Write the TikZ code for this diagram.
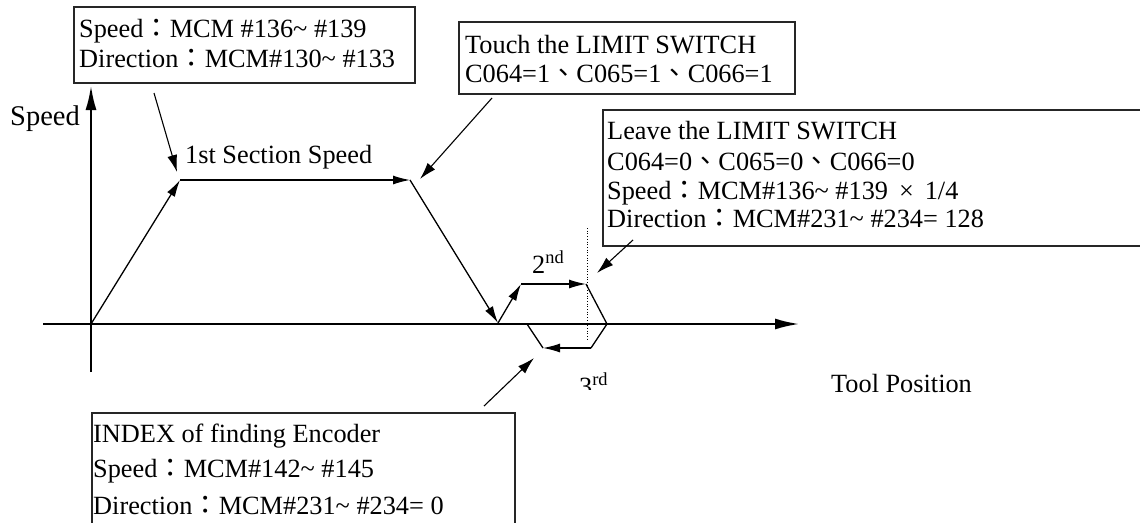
\documentclass[tikz,border=0pt]{standalone}
\usepackage{fontspec}
\setmainfont{Liberation Serif}
\newfontfamily\cjk{Noto Sans CJK TC}
\usetikzlibrary{arrows.meta}
\newcommand{\jcolon}{{\cjk ：}}
\newcommand{\jcomma}{{\cjk 、}}
\newcommand{\mytilde}{\textasciitilde}
\begin{document}
\begin{tikzpicture}[x=1pt,y=-1pt,
  txt/.style={inner sep=0pt, anchor=base west, font=\fontsize{26.3}{30}\selectfont},
  boxline/.style={line width=1.4pt, draw=black!85},
  axis/.style={line width=2.8pt, -{Latex[length=25pt,width=11pt]}},
  prof/.style={line width=1.3pt, -{Latex[length=17pt,width=9pt]}},
  profplain/.style={line width=1.3pt},
  note/.style={line width=1.1pt, -{Latex[length=17pt,width=10pt]}}]
\useasboundingbox (0,0) rectangle (1140,522);

% boxes
\draw[boxline] (74,7) rectangle (415,83);
\draw[boxline] (459,22) rectangle (795,94);
\draw[boxline] (1141,110) -- (603,110) -- (603,246) -- (1141,246);
\draw[boxline] (92,523) -- (92,413) -- (515,413) -- (515,523);

% box texts
\node[txt] (b1a) at (79,37) {Speed\jcolon MCM \#136\mytilde\ \#139};
\node[txt] (b1b) at (79,67) {Direction\jcolon MCM\#130\mytilde\ \#133};
\node[txt] (b2a) at (465,53) {Touch the LIMIT SWITCH};
\node[txt] (b2b) at (465,82) {C064=1\jcomma C065=1\jcomma C066=1};
\node[txt] (b3a) at (607,139) {Leave the LIMIT SWITCH};
\node[txt] (b3b) at (607,170) {C064=0\jcomma C065=0\jcomma C066=0};
\node[txt] (b3c) at (607,199) {Speed\jcolon MCM\#136\mytilde\ \#139 \,×\, 1/4};
\node[txt] (b3d) at (607,227) {Direction\jcolon MCM\#231\mytilde\ \#234= 128};
\node[txt] (b4a) at (93,442) {INDEX of finding Encoder};
\node[txt] (b4b) at (93,477) {Speed\jcolon MCM\#142\mytilde\ \#145};
\node[txt] (b4c) at (93,514) {Direction\jcolon MCM\#231\mytilde\ \#234= 0};

% axes
\coordinate (xs) at (43,324);
\coordinate (xe) at (800,324);
\coordinate (ys) at (91,372);
\coordinate (ye) at (91,85);
\draw[axis] (xs) -- (xe);
\draw[axis] (ys) -- (ye);

% labels
\node[txt, font=\fontsize{28.5}{30}\selectfont] (lspeed) at (10,125) {Speed};
\node[txt] (lsec) at (185,163) {1st Section Speed};
\node[txt] (ltool) at (831,392) {Tool Position};
\node[txt] (l2) at (532,273) {2\textsuperscript{nd}};
\begin{scope}
  \clip (560,360) rectangle (620,389);
  \node[txt] (l3) at (579,395) {3\textsuperscript{rd}};
\end{scope}

% profile
\coordinate (O) at (91,324);
\coordinate (P1) at (180,180);
\coordinate (P2) at (410,180);
\coordinate (P3) at (498,323);
\coordinate (P4) at (521,284);
\coordinate (P5) at (586,284);
\coordinate (P6) at (607,324);
\coordinate (P7) at (591,348);
\coordinate (P8) at (543,348);
\coordinate (P9) at (527,324);
\draw[prof] (O) -- (P1);
\draw[prof] (P1) -- (P2);
\draw[prof] (P2) -- (P3);
\draw[prof] (P3) -- (P4);
\draw[prof] (P4) -- (P5);
\draw[profplain] (P5) -- (P6) -- (P7);
\draw[prof] (P7) -- (P8);
\draw[profplain] (P8) -- (P9);

% dotted marker
\coordinate (d1) at (587,228);
\coordinate (d2) at (587,339);
\draw[line width=0.7pt, dotted] (d1) -- (d2);

% annotation arrows
\coordinate (a1s) at (154,93);  \coordinate (a1e) at (177,172);
\coordinate (a2s) at (492,98);  \coordinate (a2e) at (420,179);
\coordinate (a3s) at (633,240); \coordinate (a3e) at (597,273);
\coordinate (a4s) at (484,406); \coordinate (a4e) at (534,358);
\draw[note] (a1s) -- (a1e);
\draw[note] (a2s) -- (a2e);
\draw[note] (a3s) -- (a3e);
\draw[note] (a4s) -- (a4e);
\end{tikzpicture}
\end{document}
